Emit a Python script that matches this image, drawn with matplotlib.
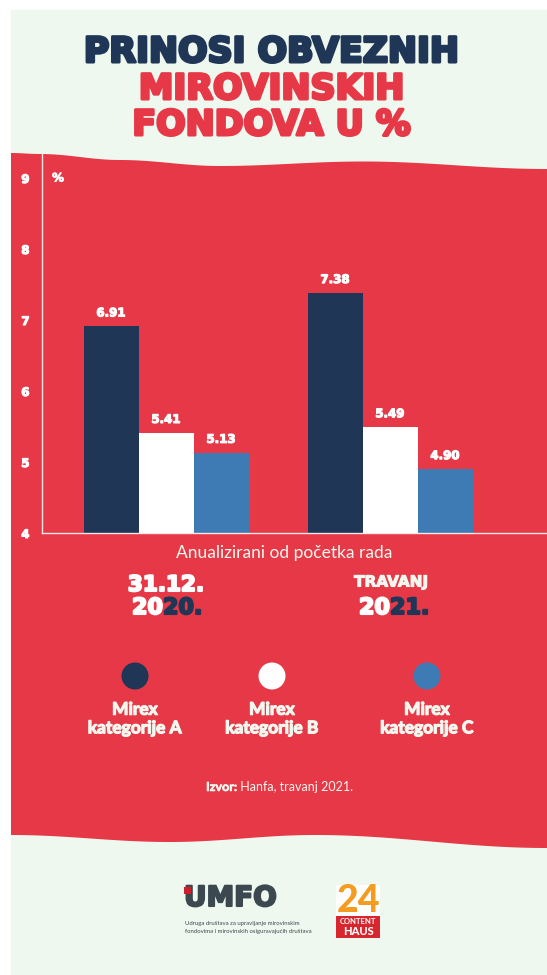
import numpy as np
import matplotlib
matplotlib.use("Agg")
import matplotlib.pyplot as plt
from matplotlib.patches import Rectangle, Polygon, Circle
import matplotlib.patheffects as pe

# ---------------- data ----------------
periods = ["31.12.2020.", "TRAVANJ 2021."]
categories = ["Mirex\nkategorije A", "Mirex\nkategorije B", "Mirex\nkategorije C"]
values_a = [6.91, 7.38]
values_b = [5.41, 5.49]
values_c = [5.13, 4.90]
y_ticks = [4, 5, 6, 7, 8, 9]
y_tick_labels = ["4", "5", "6", "7", "8", "9"]

# ---------------- style ----------------
NAVY = "#1f3657"
RED = "#e63847"
WHITE = "#ffffff"
BLUE = "#3e7bb4"
GREEN_BG = "#eff8ee"
OFFWHITE = "#f2f8ef"
series_colors = [NAVY, WHITE, BLUE]
HEAVY = ["DejaVu Sans"]
NARROW = ["Lato", "DejaVu Sans"]


def heavy(color, w=1.2):
    return [pe.withStroke(linewidth=w, foreground=color)]


W, H = 547, 975
fig = plt.figure(figsize=(W / 100, H / 100), dpi=100)
fig.patch.set_facecolor("white")

bg = fig.add_axes([0, 0, 1, 1])
bg.set_xlim(0, W)
bg.set_ylim(H, 0)
bg.axis("off")

# light green panel
bg.add_patch(Rectangle((11, 10), W - 11, H - 10, color=GREEN_BG, zorder=0))


def smooth_curve(pts, n=400):
    pts = np.asarray(pts, float)
    xs = np.linspace(pts[0, 0], pts[-1, 0], n)
    ys = np.empty_like(xs)
    for i, x in enumerate(xs):
        k = np.searchsorted(pts[:, 0], x, side="right") - 1
        k = min(max(k, 0), len(pts) - 2)
        x0, y0 = pts[k]
        x1, y1 = pts[k + 1]
        t = (x - x0) / (x1 - x0)
        s = (1 - np.cos(np.pi * t)) / 2
        ys[i] = y0 + (y1 - y0) * s
    return xs, ys


tx, ty = smooth_curve([(11, 153), (40, 154), (120, 160), (220, 166), (363, 161.5), (547, 169)])
bx, by = smooth_curve([(11, 835), (170, 842), (315, 835), (547, 848)])
poly = np.vstack([np.column_stack([tx, ty]), np.column_stack([bx[::-1], by[::-1]])])
bg.add_patch(Polygon(poly, closed=True, color=RED, zorder=1, lw=0))

# ---------------- title ----------------
for yy, txt, col in [(52, "PRINOSI OBVEZNIH", NAVY), (89, "MIROVINSKIH", RED),
                     (125, "FONDOVA U %", RED)]:
    bg.text(272, yy, txt, color=col, fontsize=25, fontweight="bold",
            family=HEAVY, ha="center", va="center", zorder=3,
            path_effects=heavy(col, 2.2))

# ---------------- chart ----------------
y_bottom_px, y_top_px = 533, 153
x_left_px, x_right_px = 42, W
ax = fig.add_axes([x_left_px / W, 1 - y_bottom_px / H,
                   (x_right_px - x_left_px) / W, (y_bottom_px - y_top_px) / H])
ax.set_facecolor("none")
ax.set_zorder(2)
px_per_unit = 71.0
ax.set_ylim(4, 4 + (y_bottom_px - y_top_px) / px_per_unit)
grp_px = [166, 390]
unit = grp_px[1] - grp_px[0]
ax.set_xlim((x_left_px - grp_px[0]) / unit, (x_right_px - grp_px[0]) / unit)
bw = 55 / unit
x = np.arange(len(periods))
for i, (vals, col) in enumerate(zip([values_a, values_b, values_c], series_colors)):
    xs = x + (i - 1) * bw
    ax.bar(xs, np.array(vals) - 4, bottom=4, width=bw, color=col, lw=0)
    for xi, v in zip(xs, vals):
        ax.annotate(f"{v:.2f}", (xi, v), xytext=(0, 5), textcoords="offset points",
                    ha="center", va="bottom", color=WHITE, fontsize=8.5,
                    fontweight="bold", family=HEAVY, path_effects=heavy(WHITE, 0.8))

ax.set_yticks(y_ticks)
ax.set_yticklabels(y_tick_labels)
ax.set_xticks([])
ax.tick_params(axis="y", length=0, pad=9, labelcolor=WHITE, labelsize=8.5)
for lab in ax.get_yticklabels():
    lab.set_fontweight("bold")
    lab.set_family(HEAVY)
    lab.set_path_effects(heavy(WHITE, 0.8))
for s in ["top", "right"]:
    ax.spines[s].set_visible(False)
for s in ["left", "bottom"]:
    ax.spines[s].set_color("#f4e6e6")
    ax.spines[s].set_linewidth(1.0)
ax.text(16 / (x_right_px - x_left_px), 9, "%", transform=ax.get_yaxis_transform(),
        color=WHITE, fontsize=8.5, fontweight="bold", family=HEAVY, va="center",
        ha="center", path_effects=heavy(WHITE, 0.6))

# ---------------- labels under chart ----------------
bg.text(284, 553, "Anualizirani od početka rada", color=OFFWHITE, fontsize=12.5,
        family=NARROW, ha="center", va="center", zorder=3)

bg.text(166, 585, "31.12.", color=WHITE, fontsize=15.5, fontweight="bold",
        family=HEAVY, ha="center", va="center", zorder=3, path_effects=heavy(WHITE, 1.5))
t1 = bg.text(163, 608, "20", color=WHITE, fontsize=16, fontweight="bold",
             family=HEAVY, ha="right", va="center", zorder=3, path_effects=heavy(WHITE, 1.5))
bg.annotate("20.", xy=(1, 0.5), xycoords=t1, color=NAVY, fontsize=16, fontweight="bold",
            family=HEAVY, ha="left", va="center", zorder=3, path_effects=heavy(NAVY, 1.5))

bg.text(391, 582, "TRAVANJ", color=OFFWHITE, fontsize=11, fontweight="bold",
        family=HEAVY, ha="center", va="center", zorder=3, path_effects=heavy(OFFWHITE, 0.8))
t2 = bg.text(390, 608, "20", color=WHITE, fontsize=16, fontweight="bold",
             family=HEAVY, ha="right", va="center", zorder=3, path_effects=heavy(WHITE, 1.5))
bg.annotate("21.", xy=(1, 0.5), xycoords=t2, color=NAVY, fontsize=16, fontweight="bold",
            family=HEAVY, ha="left", va="center", zorder=3, path_effects=heavy(NAVY, 1.5))

# ---------------- legend ----------------
leg_x = [135, 272, 427]
for lx, col, lab in zip(leg_x, series_colors, categories):
    bg.add_patch(Circle((lx, 676), 13.5, color=col, zorder=3, lw=0))
    bg.text(lx, 719, lab, color=OFFWHITE, fontsize=12.5, fontweight="bold",
            family=NARROW, ha="center", va="center", linespacing=1.2, zorder=3,
            path_effects=heavy(OFFWHITE, 0.9))

t3 = bg.text(206, 787, "Izvor:", color=OFFWHITE, fontsize=9, fontweight="bold",
             family=NARROW, ha="left", va="center", zorder=3, path_effects=heavy(OFFWHITE, 0.4))
bg.annotate(" Hanfa, travanj 2021.", xy=(1, 0.5), xycoords=t3, color=OFFWHITE,
            fontsize=9, family=NARROW, ha="left", va="center", zorder=3)

# ---------------- logos ----------------
GRAY = "#3c4850"
bg.text(184, 898, "UMFO", color=GRAY, fontsize=20, fontweight="bold", family=HEAVY,
        ha="left", va="center", zorder=3, path_effects=heavy(GRAY, 1.5))
bg.add_patch(Rectangle((184, 887), 6.5, 6.5, color="#cc1f2a", zorder=4, lw=0))
bg.text(185, 923, "Udruga društava za upravljanje mirovinskim", color=GRAY,
        fontsize=4.3, family=NARROW, ha="left", va="center", zorder=3)
bg.text(185, 932, "fondovima i mirovinskih osiguravajućih društava", color=GRAY,
        fontsize=4.3, family=NARROW, ha="left", va="center", zorder=3)

bg.add_patch(Rectangle((336, 885), 44, 53, color=WHITE, zorder=3, lw=0))
bg.text(358, 901, "24", color="#f39c1f", fontsize=27, fontweight="black", family=NARROW,
        ha="center", va="center", zorder=4)
bg.add_patch(Rectangle((336, 916), 44, 22, color="#d7262e", zorder=5, lw=0))
bg.text(358, 921.5, "CONTENT", color=WHITE, fontsize=5.5, fontweight="bold", family=NARROW,
        ha="center", va="center", zorder=6)
bg.text(358, 931.5, "HAUS", color=WHITE, fontsize=8, fontweight="black", family=NARROW,
        ha="center", va="center", zorder=6)

fig.savefig("out.png", dpi=100, facecolor="white")
